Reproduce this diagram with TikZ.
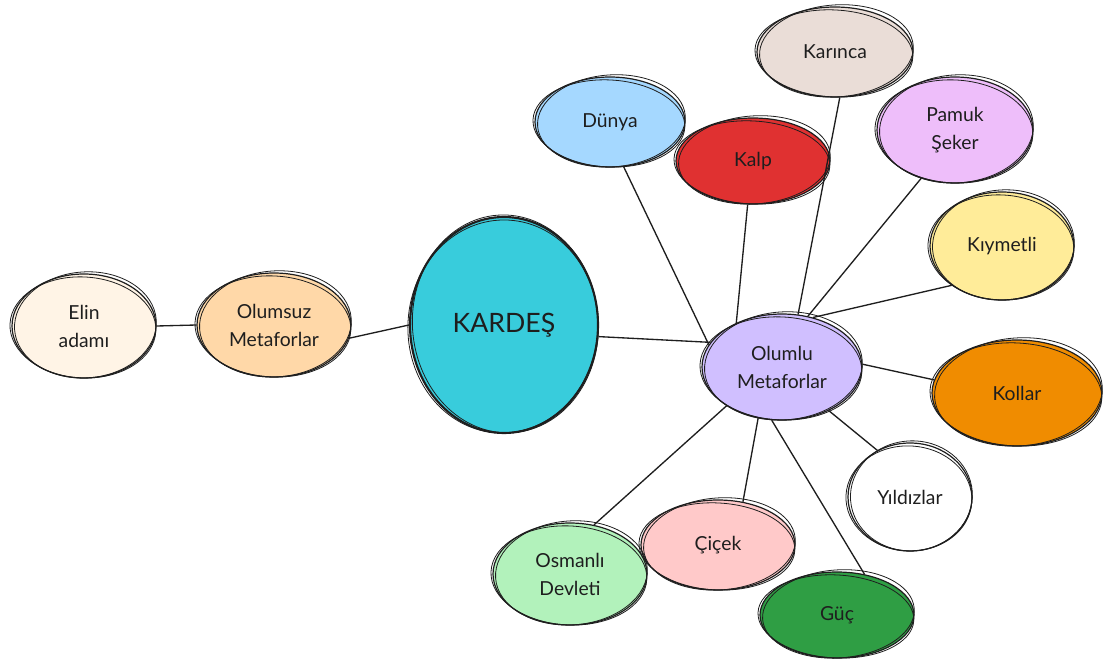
\documentclass[tikz,border=0pt]{standalone}
\usepackage{fontspec}
\setmainfont{Lato}
\usetikzlibrary{shapes.geometric}

\definecolor{ink}{HTML}{1E1E1E}
\definecolor{cream}{HTML}{FFF4E6}
\definecolor{peach}{HTML}{FFD8A8}
\definecolor{cyanfill}{HTML}{38CCDC}
\definecolor{violet}{HTML}{D0BFFF}
\definecolor{skyfill}{HTML}{A5D8FF}
\definecolor{redfill}{HTML}{E03131}
\definecolor{sandfill}{HTML}{EADDD7}
\definecolor{lilac}{HTML}{EEBEFA}
\definecolor{lemon}{HTML}{FFEC99}
\definecolor{orangefill}{HTML}{F08C00}
\definecolor{mint}{HTML}{B2F2BB}
\definecolor{rose}{HTML}{FFC9C9}
\definecolor{forest}{HTML}{2F9E44}

% one hand-drawn bubble: name, x, y, rx, ry, fill, text
\newcommand\bubble[7]{%
  \node[blobnode, fill=#6, minimum width={1.5pt*#4}, minimum height={1.5pt*#5}] (#1) at (#2,#3) {#7};
}
% extra pencil strokes round a bubble: name, rx, ry
\newcommand\roughring[3]{%
  \draw[ring, rotate around={4:(#1.center)}] ([shift={(1.5,-1)}]#1.center) ellipse [x radius={#2-1}, y radius={#3+1}];
  \draw[ring, rotate around={-3:(#1.center)}] ([shift={(-1,1.5)}]#1.center) ellipse [x radius={#2+1}, y radius={#3-1.5}];
}

\tikzset{
  blobnode/.style={ellipse, draw=ink, line width=0.9pt, inner sep=0pt,
    text=ink, align=center, font=\fontsize{14.5}{21}\selectfont},
  ring/.style={draw=ink, line width=0.6pt},
  link/.style={draw=ink, line width=1pt},
}

\begin{document}
\begin{tikzpicture}[x=0.75pt, y=-0.75pt]
\useasboundingbox (0,0) rectangle (1107,663);

% bubbles
\bubble{elin}{84}{326}{72}{52}{cream}{Elin\\adamı}
\bubble{olumsuz}{274}{325}{77}{52}{peach}{Olumsuz\\Metaforlar}
\node[blobnode, fill=cyanfill, line width=1.6pt, minimum width={1.5pt*94}, minimum height={1.5pt*108},
      font=\fontsize{20}{24}\selectfont] (kardes) at (504,325) {KARDEŞ};
\bubble{olumlu}{782}{367}{80}{53}{violet}{Olumlu\\Metaforlar}
\bubble{dunya}{610}{122}{75}{45}{skyfill}{Dünya}
\bubble{kalp}{753}{161}{77}{43}{redfill}{Kalp}
\bubble{karinca}{835}{52}{78}{45}{sandfill}{Karınca}
\bubble{pamuk}{955}{130}{78}{53}{lilac}{Pamuk\\Şeker}
\bubble{kiymetli}{1002}{246}{72}{54}{lemon}{Kıymetli}
\bubble{kollar}{1017}{393}{85}{53}{orangefill}{Kollar}
\bubble{yildiz}{910}{497}{62}{54}{white}{Yıldızlar}
\bubble{osmanli}{570}{574}{77}{51}{mint}{Osmanlı\\Devleti}
\bubble{cicek}{718}{545}{77}{45}{rose}{Çiçek}
\bubble{guc}{837}{615}{77}{43}{forest}{Güç}

% connectors
\draw[link] (elin.0) -- (olumsuz.180);
\draw[link] (olumsuz.-10) -- (kardes.180);
\draw[link] (kardes.-7) -- (olumlu.161);
\draw[link] (dunya.-73) -- (olumlu.163);
\draw[link] (kalp.-97) -- (olumlu.136);
\draw[link] (karinca.-84) -- (olumlu.73);
\draw[link] (pamuk.-125) -- (olumlu.63);
\draw[link] (kiymetli.-142) -- (olumlu.58);
\draw[link] (kollar.171) -- (olumlu.2);
\draw[link] (yildiz.125) -- (olumlu.-43);
\draw[link] (guc.56) -- (olumlu.-101);
\draw[link] (cicek.60) -- (olumlu.-115);
\draw[link] (osmanli.64) -- (olumlu.-145);

% pencil strokes
\roughring{elin}{72}{52}
\roughring{olumsuz}{77}{52}
\roughring{kardes}{94}{108}
\roughring{olumlu}{80}{53}
\roughring{dunya}{75}{45}
\roughring{kalp}{77}{43}
\roughring{karinca}{78}{45}
\roughring{pamuk}{78}{53}
\roughring{kiymetli}{72}{54}
\roughring{kollar}{85}{53}
\roughring{yildiz}{62}{54}
\roughring{osmanli}{77}{51}
\roughring{cicek}{77}{45}
\roughring{guc}{77}{43}
\end{tikzpicture}
\end{document}
